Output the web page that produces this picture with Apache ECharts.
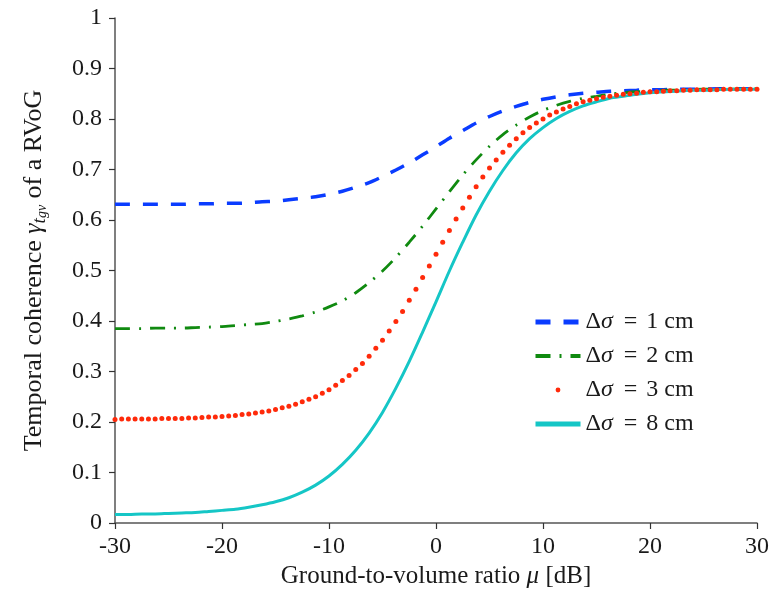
<!DOCTYPE html>
<html>
<head>
<meta charset="utf-8">
<script src="https://cdn.jsdelivr.net/npm/echarts@6/dist/echarts.min.js"></script>
<style>
html,body{margin:0;padding:0;background:#fff;}
#chart{width:778px;height:599px;}
</style>
</head>
<body>
<div id="chart"></div>
<script>
// Ground-to-volume ratio mu [dB] for the line curves
var muLine = [-30,-28.75,-27.5,-26.25,-25,-23.75,-22.5,-21.25,-20,-18.75,-17.5,-16.25,-15,-13.75,-12.5,-11.25,-10,-8.75,-7.5,-6.25,-5,-3.75,-2.5,-1.25,0,1.25,2.5,3.75,5,6.25,7.5,8.75,10,11.25,12.5,13.75,15,16.25,17.5,18.75,20,21.25,22.5,23.75,25,26.25,27.5,28.75,30];
// mu [dB] for the dotted (3 cm) curve
var muDots = [-30,-29.375,-28.75,-28.125,-27.5,-26.875,-26.25,-25.625,-25,-24.375,
-23.75,-23.125,-22.5,-21.875,-21.25,-20.625,-20,-19.375,-18.75,-18.125,
-17.5,-16.875,-16.25,-15.625,-15,-14.375,-13.75,-13.125,-12.5,-11.875,
-11.25,-10.625,-10,-9.375,-8.75,-8.125,-7.5,-6.875,-6.25,-5.625,
-5,-4.375,-3.75,-3.125,-2.5,-1.875,-1.25,-0.625,0,0.625,
1.25,1.875,2.5,3.125,3.75,4.375,5,5.625,6.25,6.875,
7.5,8.125,8.75,9.375,10,10.625,11.25,11.875,12.5,13.125,
13.75,14.375,15,15.625,16.25,16.875,17.5,18.125,18.75,19.375,
20,20.625,21.25,21.875,22.5,23.125,23.75,24.375,25,25.625,
26.25,26.875,27.5,28.125,28.75,29.375,30];

var seriesNames = ['\u0394\u03c3 = 1 cm','\u0394\u03c3 = 2 cm','\u0394\u03c3 = 3 cm','\u0394\u03c3 = 8 cm'];

var sigma1cm = [0.631,0.631,0.631,0.631,0.631,0.631,0.632,0.632,0.633,0.633,
0.634,0.636,0.637,0.640,0.643,0.646,0.651,0.657,0.665,0.674,
0.686,0.699,0.713,0.729,0.745,0.762,0.777,0.792,0.805,0.816,
0.825,0.833,0.839,0.844,0.848,0.851,0.853,0.855,0.856,0.857,
0.858,0.858,0.859,0.859,0.859,0.860,0.860,0.860,0.860];

var sigma2cm = [0.385,0.385,0.385,0.386,0.386,0.386,0.387,0.388,0.389,0.391,
0.393,0.395,0.399,0.404,0.410,0.418,0.428,0.440,0.456,0.476,
0.499,0.526,0.556,0.588,0.622,0.656,0.689,0.719,0.746,0.769,
0.788,0.804,0.817,0.827,0.835,0.841,0.845,0.849,0.852,0.854,
0.855,0.857,0.857,0.858,0.859,0.859,0.859,0.859,0.860];

var sigma3cm = [0.205,0.206,0.206,0.206,0.206,0.206,0.206,0.207,0.207,0.207,
0.207,0.208,0.208,0.209,0.210,0.210,0.211,0.212,0.213,0.215,
0.216,0.218,0.220,0.222,0.225,0.228,0.231,0.235,0.240,0.245,
0.250,0.257,0.264,0.273,0.282,0.292,0.304,0.316,0.330,0.346,
0.362,0.380,0.399,0.419,0.441,0.463,0.486,0.509,0.532,0.556,
0.579,0.602,0.624,0.645,0.666,0.685,0.703,0.719,0.734,0.748,
0.761,0.773,0.783,0.792,0.800,0.808,0.814,0.820,0.825,0.830,
0.834,0.837,0.840,0.843,0.845,0.847,0.849,0.850,0.851,0.853,
0.854,0.854,0.855,0.856,0.856,0.857,0.857,0.858,0.858,0.858,
0.858,0.859,0.859,0.859,0.859,0.859,0.859];

var sigma8cm = [0.017,0.017,0.018,0.018,0.019,0.020,0.021,0.023,0.025,0.027,
0.031,0.036,0.042,0.050,0.061,0.075,0.093,0.116,0.144,0.178,
0.219,0.267,0.320,0.378,0.438,0.499,0.556,0.610,0.657,0.698,
0.733,0.761,0.783,0.801,0.815,0.826,0.834,0.841,0.845,0.849,
0.852,0.854,0.855,0.857,0.857,0.858,0.859,0.859,0.859];

function pairs(xs, ys){ return xs.map(function(x,i){ return [x, ys[i]]; }); }

var FONT = '"Liberation Serif","DejaVu Serif",serif';
var TXT = '#1a1a1a';
var chart = echarts.init(document.getElementById('chart'), null, {renderer:'canvas'});
chart.setOption({
  animation:false,
  backgroundColor:'#ffffff',
  grid:{left:115, right:21, top:18, bottom:76, containLabel:false},
  xAxis:{
    type:'value', min:-30, max:30, interval:10,
    axisLine:{show:true, onZero:false, lineStyle:{color:'#555555', width:1.5}},
    axisTick:{show:true, inside:false, length:6, lineStyle:{color:'#333333', width:1.2}},
    splitLine:{show:false},
    axisLabel:{margin:12, color:TXT, fontFamily:FONT, fontSize:24},
    name:'{n|Ground-to-volume ratio }{i|\u03bc}{n| [dB]}',
    nameLocation:'middle', nameGap:41,
    nameTextStyle:{
      rich:{
        n:{fontFamily:FONT, fontSize:25, color:TXT},
        i:{fontFamily:FONT, fontSize:25, fontStyle:'italic', color:TXT}
      }
    }
  },
  yAxis:{
    type:'value', min:0, max:1, interval:0.1,
    axisLine:{show:true, onZero:false, lineStyle:{color:'#555555', width:1.5}},
    axisTick:{show:true, inside:false, length:6, lineStyle:{color:'#333333', width:1.2}},
    splitLine:{show:false},
    axisLabel:{margin:13, color:TXT, fontFamily:FONT, fontSize:24},
    name:'{n|Temporal coherence }{i|\u03b3}{s|t}{ss|gv}{n| of a RVoG}',
    nameLocation:'middle', nameGap:66, nameRotate:90,
    nameTextStyle:{
      rich:{
        n:{fontFamily:FONT, fontSize:26, color:TXT, lineHeight:29},
        i:{fontFamily:FONT, fontSize:26, fontStyle:'italic', color:TXT, lineHeight:29},
        s:{fontFamily:FONT, fontSize:19, fontStyle:'italic', color:TXT, lineHeight:21, verticalAlign:'bottom'},
        ss:{fontFamily:FONT, fontSize:14, fontStyle:'italic', color:TXT, lineHeight:12, verticalAlign:'bottom'}
      }
    }
  },
  legend:{
    orient:'vertical', left:533, top:310, padding:0,
    itemWidth:45, itemHeight:6, itemGap:10,
    data:[
      {name:seriesNames[0], itemStyle:{opacity:0}, lineStyle:{width:5}},
      {name:seriesNames[1], itemStyle:{opacity:0}, lineStyle:{width:4}},
      {name:seriesNames[2], lineStyle:{opacity:0, width:0}},
      {name:seriesNames[3], itemStyle:{opacity:0}, lineStyle:{width:5}}
    ],
    formatter:function(name){
      var num = name.split('= ')[1].split(' ')[0];
      return '{r|\u0394}{i|\u03c3}{e|=}{r|' + num + ' cm}';
    },
    textStyle:{
      lineHeight:24,
      rich:{
        r:{fontFamily:FONT, fontSize:24, color:TXT, lineHeight:24},
        i:{fontFamily:FONT, fontSize:24, fontStyle:'italic', color:TXT, lineHeight:24},
        e:{fontFamily:FONT, fontSize:24, color:TXT, lineHeight:24, padding:[0,9,0,11]}
      }
    }
  },
  series:[
    {
      name:seriesNames[0], type:'line', data:pairs(muLine, sigma1cm),
      symbol:'none', smooth:0.3, color:'#0a3cff',
      lineStyle:{color:'#0a3cff', width:3.5, type:[15,13]}
    },
    {
      name:seriesNames[1], type:'line', data:pairs(muLine, sigma2cm),
      symbol:'none', smooth:0.3, color:'#108a10',
      lineStyle:{color:'#108a10', width:2.8, type:[15,9,2,9]}
    },
    {
      name:seriesNames[2], type:'line', data:pairs(muDots, sigma3cm),
      symbol:'circle', symbolSize:5, showSymbol:true, showAllSymbol:true,
      color:'#ff2a0a',
      itemStyle:{color:'#ff2a0a'},
      lineStyle:{width:0, opacity:0}
    },
    {
      name:seriesNames[3], type:'line', data:pairs(muLine, sigma8cm),
      symbol:'none', smooth:0.3, color:'#15c6c6',
      lineStyle:{color:'#15c6c6', width:3}
    }
  ]
});
</script>
</body>
</html>
